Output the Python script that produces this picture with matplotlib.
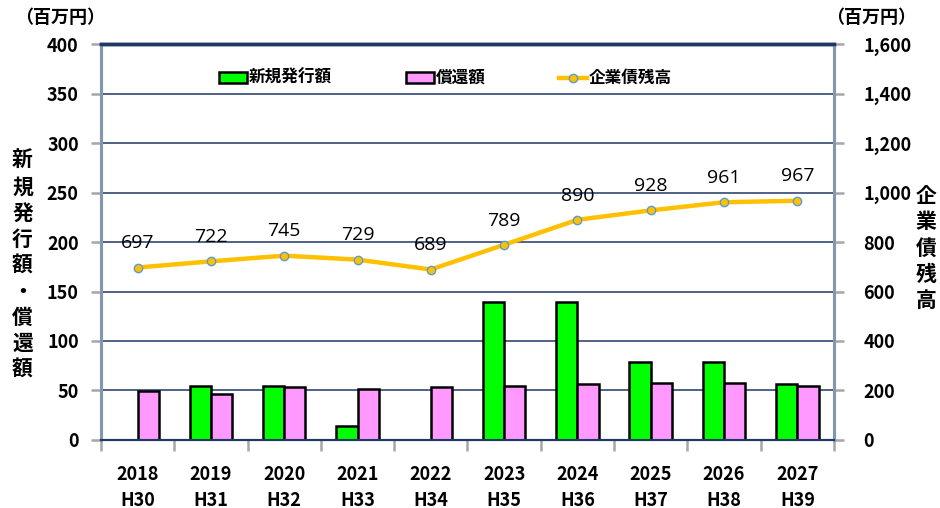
import numpy as np
import matplotlib.pyplot as plt
from matplotlib.patches import Patch
from matplotlib.ticker import FuncFormatter, MultipleLocator

plt.rcParams['font.family'] = ['Noto Sans CJK JP', 'DejaVu Sans']

# 年度と各系列の値（百万円）
years = ['2018', '2019', '2020', '2021', '2022', '2023', '2024', '2025', '2026', '2027']
heisei = ['H30', 'H31', 'H32', 'H33', 'H34', 'H35', 'H36', 'H37', 'H38', 'H39']
new_issue = [0, 55, 55, 14, 0, 139, 139, 79, 79, 57]
redemption = [49, 46, 53, 51, 54, 55, 57, 58, 58, 55]
balance = [697, 722, 745, 729, 689, 789, 890, 928, 961, 967]

navy = '#1F3864'
spine_gray = '#8497B0'
green = '#00FF00'
pink = '#FF99FF'

fig = plt.figure(figsize=(9.4, 5.08), dpi=100)
ax = fig.add_axes([0.1074, 0.134, 0.7798, 0.779])
ax2 = ax.twinx()

x = np.arange(len(years))
w = 0.29
# 値が 0 の棒は枠線も描かない
ax.bar(x - w / 2, new_issue, w, color=green, edgecolor='black',
       linewidth=[1.8 if v else 0 for v in new_issue], zorder=3)
ax.bar(x + w / 2, redemption, w, color=pink, edgecolor='black',
       linewidth=[1.8 if v else 0 for v in redemption], zorder=3)

line, = ax2.plot(x, balance, color='#FFC000', linewidth=3.2, marker='o', markersize=6,
                 markerfacecolor='#FFC000', markeredgecolor='#5B9BD5', markeredgewidth=1.0,
                 zorder=4, label='企業債残高')
for xi, v in zip(x, balance):
    ax2.annotate(f'{v}', (xi, v), xytext=(0, 11), textcoords='offset points',
                 ha='center', va='bottom', fontsize=14, family=['Open Sans', 'DejaVu Sans'])

ax.set_xlim(-0.5, len(years) - 0.5)
ax.set_ylim(0, 400)
ax2.set_ylim(0, 1600)
ax.yaxis.set_major_locator(MultipleLocator(50))
ax2.yaxis.set_major_locator(MultipleLocator(200))
ax2.yaxis.set_major_formatter(FuncFormatter(lambda v, p: f'{int(v):,}'))

ax.grid(axis='y', color=navy, linewidth=1.1, zorder=0)
ax.set_axisbelow(True)

# x 軸の目盛は区切り位置に、ラベルは各年度の中央に
ax.set_xticks(np.arange(len(years) + 1) - 0.5)
ax.set_xticklabels([])
ax.set_xticks(x, minor=True)
ax.set_xticklabels([f'{y}\n{h}' for y, h in zip(years, heisei)], minor=True,
                   fontsize=13, fontweight='bold', linespacing=1.45)
ax.tick_params(axis='x', which='major', direction='out', length=8, width=1.8, color='#A6A6A6')
ax.tick_params(axis='x', which='minor', length=0, pad=18)

ax.tick_params(axis='y', direction='out', length=7, width=1.8, color='#A6A6A6',
               labelsize=13, pad=9)
ax2.tick_params(axis='y', direction='out', length=7, width=1.8, color='#A6A6A6',
                labelsize=13, pad=14)
for lbl in ax.get_yticklabels() + ax2.get_yticklabels():
    lbl.set_fontweight('bold')

for a in (ax, ax2):
    a.spines['top'].set_color(navy)
    a.spines['top'].set_linewidth(2.5)
    a.spines['bottom'].set_color(navy)
    a.spines['bottom'].set_linewidth(1.5)
    a.spines['left'].set_color(spine_gray)
    a.spines['left'].set_linewidth(2.2)
    a.spines['right'].set_color(spine_gray)
    a.spines['right'].set_linewidth(2.2)

handles = [Patch(facecolor=green, edgecolor='black', linewidth=1.8),
           Patch(facecolor=pink, edgecolor='black', linewidth=1.8),
           line]
labels = ['新規発行額', '償還額', '企業債残高']
leg = ax2.legend(handles, labels, loc='upper center', bbox_to_anchor=(0.47, 0.975), ncol=3,
                 frameon=False, columnspacing=4.4, handlelength=1.7, handleheight=0.6,
                 handletextpad=0.1, prop={'weight': 'bold', 'size': 12})
leg.set_zorder(10)

fig.text(0.016, 0.965, '（百万円）', fontsize=13, fontweight='bold', ha='left', va='center')
fig.text(0.975, 0.965, '（百万円）', fontsize=13, fontweight='bold', ha='right', va='center')
fig.text(0.024, 0.478, '\n'.join('新規発行額・償還額'), fontsize=15, fontweight='bold',
         ha='center', va='center', linespacing=1.3)
fig.text(0.985, 0.512, '\n'.join('企業債残高'), fontsize=15, fontweight='bold',
         ha='center', va='center', linespacing=1.3)

fig.savefig('out.png', dpi=100)
